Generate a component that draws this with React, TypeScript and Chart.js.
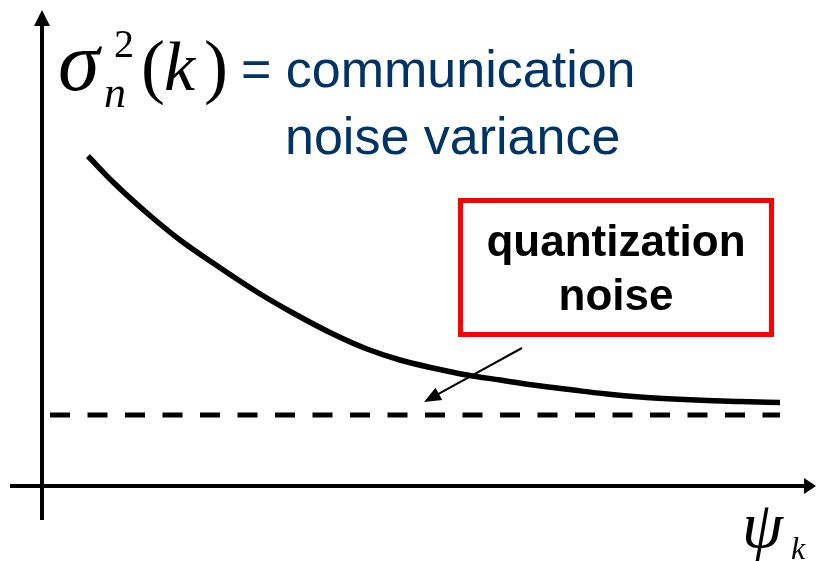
import React, { useEffect, useRef } from "react";
import { Chart, registerables } from "chart.js";

Chart.register(...registerables);

// Communication noise variance as a function of psi_k (arbitrary units)
const PSI = [0.46, 0.71, 1.05, 1.38, 1.71, 2.15, 2.51, 2.91, 3.25, 3.58, 3.91, 4.25, 4.58, 4.91, 5.31, 5.65, 5.98, 6.31, 6.65, 6.98, 7.38];
const VARIANCE = [3.3, 3.04, 2.73, 2.46, 2.23, 1.94, 1.73, 1.52, 1.37, 1.26, 1.18, 1.11, 1.06, 1.01, 0.96, 0.92, 0.89, 0.87, 0.855, 0.845, 0.835];

// Quantization noise floor
const FLOOR_PSI = [0.08, 7.38];
const FLOOR_LEVEL = [0.71, 0.71];

// Visible extent of the two axes (same units as the data)
const X_RANGE = [-0.42, 7.74];
const Y_RANGE = [-0.75, 4.86];
const X_AXIS_SPAN = [-0.32, 7.74];
const Y_AXIS_SPAN = [-0.34, 4.76];

const TITLE_LINES = ["= communication", "noise variance"];
const BOX_LINES = ["quantization", "noise"];

const BLUE = "#003366";
const SERIF = "'Liberation Serif', 'Times New Roman', serif";

const overlay = {
  id: "overlay",
  afterDatasetsDraw(chart: any) {
    const ctx: CanvasRenderingContext2D = chart.ctx;
    const xs = chart.scales.x;
    const ys = chart.scales.y;
    const x0 = xs.getPixelForValue(0);
    const y0 = ys.getPixelForValue(0);
    ctx.save();

    // axes with arrow heads
    ctx.strokeStyle = "#000";
    ctx.fillStyle = "#000";
    ctx.lineWidth = 4;
    const yTop = ys.getPixelForValue(Y_AXIS_SPAN[1]);
    const yBottom = ys.getPixelForValue(Y_AXIS_SPAN[0]);
    ctx.beginPath();
    ctx.moveTo(x0, yBottom);
    ctx.lineTo(x0, yTop + 14);
    ctx.stroke();
    ctx.beginPath();
    ctx.moveTo(x0, yTop);
    ctx.lineTo(x0 - 8, yTop + 16);
    ctx.lineTo(x0 + 8, yTop + 16);
    ctx.closePath();
    ctx.fill();

    const xLeft = xs.getPixelForValue(X_AXIS_SPAN[0]);
    const xRight = xs.getPixelForValue(X_AXIS_SPAN[1]);
    ctx.beginPath();
    ctx.moveTo(xLeft, y0);
    ctx.lineTo(xRight - 10, y0);
    ctx.stroke();
    ctx.beginPath();
    ctx.moveTo(xRight, y0);
    ctx.lineTo(xRight - 12, y0 - 8);
    ctx.lineTo(xRight - 12, y0 + 8);
    ctx.closePath();
    ctx.fill();

    // sigma_n^2(k)
    ctx.fillStyle = "#000";
    ctx.textBaseline = "alphabetic";
    ctx.textAlign = "left";
    ctx.font = `italic 84px ${SERIF}`;
    ctx.fillText("σ", 58, 90);
    ctx.font = `40px ${SERIF}`;
    ctx.fillText("2", 114, 57);
    ctx.font = `italic 44px ${SERIF}`;
    ctx.fillText("n", 104, 107);
    ctx.font = `72px ${SERIF}`;
    ctx.fillText("(", 141, 90);
    ctx.font = `italic 70px ${SERIF}`;
    ctx.fillText("k", 164, 90);
    ctx.font = `72px ${SERIF}`;
    ctx.fillText(")", 204, 90);

    // psi_k axis label
    ctx.font = `italic 66px ${SERIF}`;
    ctx.fillText("ψ", 742, 547);
    ctx.font = `italic 32px ${SERIF}`;
    ctx.fillText("k", 791, 559);

    // description in blue
    ctx.fillStyle = BLUE;
    ctx.font = "52px 'Liberation Sans', Arial, sans-serif";
    ctx.fillText(TITLE_LINES[0], 241, 87);
    ctx.fillText(TITLE_LINES[1], 285, 154);

    // boxed label
    ctx.strokeStyle = "#ff0000";
    ctx.lineWidth = 5;
    ctx.strokeRect(460.5, 200.5, 311, 134);
    ctx.fillStyle = "#000";
    ctx.textAlign = "center";
    ctx.font = "bold 44px 'Liberation Sans', Arial, sans-serif";
    ctx.fillText(BOX_LINES[0], 616, 256);
    ctx.fillText(BOX_LINES[1], 616, 310);

    // pointer from the box to the noise floor
    const ax = 522, ay = 348, bx = 424, by = 402;
    const ang = Math.atan2(by - ay, bx - ax);
    ctx.strokeStyle = "#000";
    ctx.lineWidth = 2;
    ctx.beginPath();
    ctx.moveTo(ax, ay);
    ctx.lineTo(bx - 14 * Math.cos(ang), by - 14 * Math.sin(ang));
    ctx.stroke();
    ctx.beginPath();
    ctx.moveTo(bx, by);
    ctx.lineTo(bx - 17 * Math.cos(ang) + 7 * Math.sin(ang), by - 17 * Math.sin(ang) - 7 * Math.cos(ang));
    ctx.lineTo(bx - 17 * Math.cos(ang) - 7 * Math.sin(ang), by - 17 * Math.sin(ang) + 7 * Math.cos(ang));
    ctx.closePath();
    ctx.fill();

    ctx.restore();
  },
};

export default function App() {
  const ref = useRef<HTMLCanvasElement>(null);

  useEffect(() => {
    if (!ref.current) return;
    const chart = new Chart(ref.current, {
      type: "line",
      data: {
        datasets: [
          {
            data: PSI.map((x, i) => ({ x, y: VARIANCE[i] })),
            borderColor: "#000",
            borderWidth: 5.5,
            pointRadius: 0,
            cubicInterpolationMode: "monotone",
            fill: false,
          },
          {
            data: FLOOR_PSI.map((x, i) => ({ x, y: FLOOR_LEVEL[i] })),
            borderColor: "#000",
            borderWidth: 5,
            borderDash: [20, 17.5],
            borderCapStyle: "butt",
            pointRadius: 0,
            fill: false,
          },
        ],
      },
      options: {
        animation: false,
        responsive: false,
        maintainAspectRatio: false,
        devicePixelRatio: 1,
        layout: { padding: 0 },
        scales: {
          x: { type: "linear", display: false, min: X_RANGE[0], max: X_RANGE[1] },
          y: { type: "linear", display: false, min: Y_RANGE[0], max: Y_RANGE[1] },
        },
        plugins: {
          legend: { display: false },
          tooltip: { enabled: false },
        },
      },
      plugins: [overlay],
    });
    return () => chart.destroy();
  }, []);

  return (
    <div style={{ position: "fixed", left: 0, top: 0, width: 816, height: 561, background: "#fff" }}>
      <canvas ref={ref} width={816} height={561} style={{ width: 816, height: 561, display: "block" }} />
    </div>
  );
}
